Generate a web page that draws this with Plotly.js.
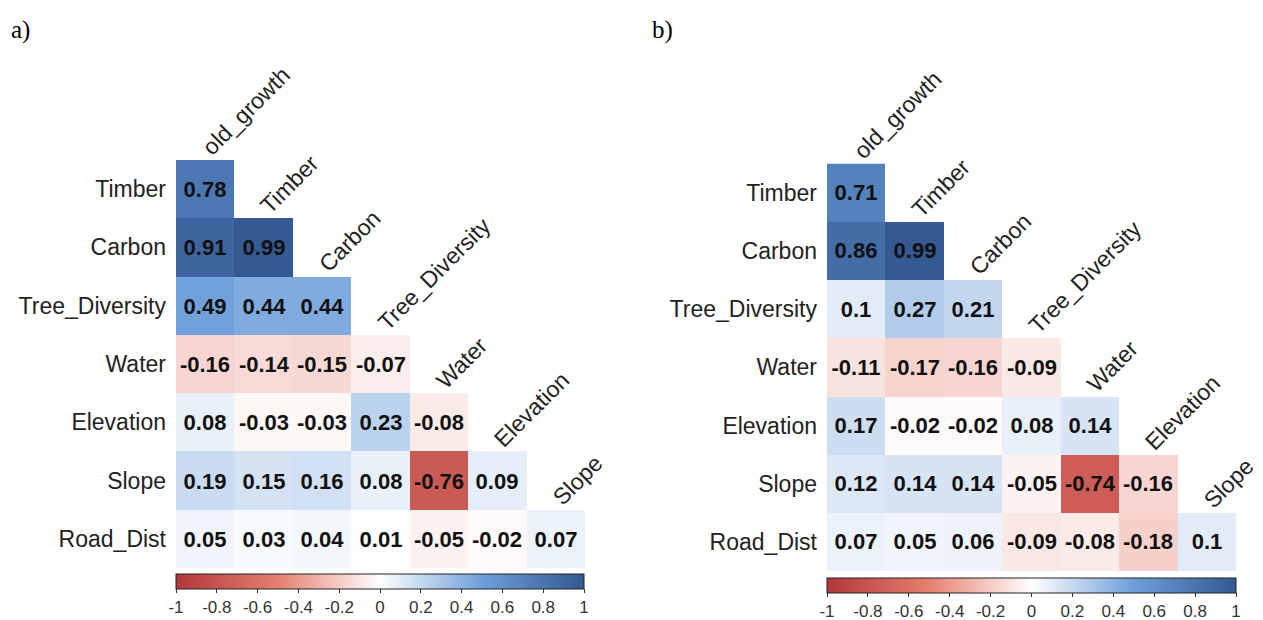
<!DOCTYPE html>
<html>
<head>
<meta charset="utf-8">
<script src="https://cdn.plot.ly/plotly-3.0.1.min.js"></script>
<style>
  html, body { margin: 0; padding: 0; background: #ffffff; }
  #chart { width: 1263px; height: 620px; }
</style>
</head>
<body>
<div id="chart"></div>
<script>
// Variables in the correlation matrices (lower triangle only)
const rowVars = ['Timber', 'Carbon', 'Tree_Diversity', 'Water', 'Elevation', 'Slope', 'Road_Dist'];
const colVars = ['old_growth', 'Timber', 'Carbon', 'Tree_Diversity', 'Water', 'Elevation', 'Slope'];

// Panel a) correlations, one row per variable in rowVars
const corrA = [
  [0.78],
  [0.91, 0.99],
  [0.49, 0.44, 0.44],
  [-0.16, -0.14, -0.15, -0.07],
  [0.08, -0.03, -0.03, 0.23, -0.08],
  [0.19, 0.15, 0.16, 0.08, -0.76, 0.09],
  [0.05, 0.03, 0.04, 0.01, -0.05, -0.02, 0.07]
];

// Panel b) correlations
const corrB = [
  [0.71],
  [0.86, 0.99],
  [0.1, 0.27, 0.21],
  [-0.11, -0.17, -0.16, -0.09],
  [0.17, -0.02, -0.02, 0.08, 0.14],
  [0.12, 0.14, 0.14, -0.05, -0.74, -0.16],
  [0.07, 0.05, 0.06, -0.09, -0.08, -0.18, 0.1]
];

// Colour bar ticks
const cbTickVals = [-1, -0.8, -0.6, -0.4, -0.2, 0, 0.2, 0.4, 0.6, 0.8, 1];
const cbTickText = ['-1', '-0.8', '-0.6', '-0.4', '-0.2', '0', '0.2', '0.4', '0.6', '0.8', '1'];

const panelLabels = ['a)', 'b)'];

// Diverging red-white-blue scale
const corrScale = [
  [0.00, '#B2373B'],
  [0.25, '#E5806F'],
  [0.50, '#FFFFFF'],
  [0.75, '#6E9FDA'],
  [1.00, '#335892']
];

const W = 1263, H = 620;
const px = v => v / W;
const py = v => 1 - v / H;

// Expand a lower-triangular list into a full matrix with gaps above the diagonal
function fullMatrix(tri) {
  return tri.map(row => colVars.map((_, j) => (j < row.length ? row[j] : null)));
}
function textMatrix(tri) {
  return tri.map(row => colVars.map((_, j) => (j < row.length ? String(row[j]) : '')));
}

function heat(tri, xa, ya, cb) {
  return {
    type: 'heatmap',
    x: colVars,
    y: rowVars,
    z: fullMatrix(tri),
    text: textMatrix(tri),
    texttemplate: '%{text}',
    textfont: { family: 'Liberation Sans, Arial, sans-serif', size: 22, color: '#111111', weight: 'bold' },
    zmin: -1, zmax: 1,
    colorscale: corrScale,
    hoverongaps: false,
    xaxis: xa, yaxis: ya,
    colorbar: Object.assign({
      orientation: 'h',
      xanchor: 'center',
      yanchor: 'top',
      lenmode: 'pixels',
      thickness: 15,
      xpad: 0, ypad: 0,
      outlinewidth: 1,
      outlinecolor: '#222222',
      tickmode: 'array',
      tickvals: cbTickVals,
      ticktext: cbTickText,
      ticks: 'outside',
      ticklen: 4,
      tickcolor: '#333333',
      tickfont: { family: 'Liberation Sans, Arial, sans-serif', size: 17, color: '#333333' }
    }, cb)
  };
}

const traces = [
  heat(corrA, 'x', 'y', { x: px(380), y: py(574), len: 408 }),
  heat(corrB, 'x2', 'y2', { x: px(1031.5), y: py(578), len: 409 })
];

const labelFont = { family: 'Liberation Sans, Arial, sans-serif', size: 23, color: '#222222' };

function xAxis(domain, anchor) {
  return {
    domain: domain,
    anchor: anchor,
    type: 'category',
    range: [-0.5, colVars.length - 0.5],
    autorange: false,
    showticklabels: false, showgrid: false, zeroline: false, showline: false, ticks: '',
    fixedrange: true
  };
}
function yAxis(domain, anchor) {
  return {
    domain: domain,
    anchor: anchor,
    type: 'category',
    range: [rowVars.length - 0.5, -0.5],
    autorange: false,
    showgrid: false, zeroline: false, showline: false, ticks: '',
    ticklabelstandoff: 9,
    tickfont: labelFont,
    fixedrange: true
  };
}

// Diagonal column names sit just above each column's first cell
const annotations = [];
[['x', 'y'], ['x2', 'y2']].forEach(([xr, yr]) => {
  colVars.forEach((name, j) => {
    annotations.push({
      xref: xr, yref: yr,
      x: j, y: j - 0.5,
      text: name,
      showarrow: false,
      textangle: -45,
      xanchor: 'left', yanchor: 'bottom',
      xshift: -11, yshift: -3,
      font: labelFont
    });
  });
});
annotations.push({
  xref: 'paper', yref: 'paper', x: px(9), y: py(14),
  xanchor: 'left', yanchor: 'top', showarrow: false,
  text: panelLabels[0],
  font: { family: 'Liberation Serif, Times New Roman, serif', size: 25, color: '#000000' }
});
annotations.push({
  xref: 'paper', yref: 'paper', x: px(650), y: py(14),
  xanchor: 'left', yanchor: 'top', showarrow: false,
  text: panelLabels[1],
  font: { family: 'Liberation Serif, Times New Roman, serif', size: 25, color: '#000000' }
});

const layout = {
  width: W, height: H,
  margin: { l: 0, r: 0, t: 0, b: 0, autoexpand: false },
  paper_bgcolor: '#ffffff',
  plot_bgcolor: 'rgba(0,0,0,0)',
  showlegend: false,
  xaxis: xAxis([px(176), px(585)], 'y'),
  yaxis: yAxis([py(568), py(160)], 'x'),
  xaxis2: xAxis([px(827), px(1236)], 'y2'),
  yaxis2: yAxis([py(571), py(163.5)], 'x2'),
  annotations: annotations
};

Plotly.newPlot('chart', traces, layout, { staticPlot: true, displayModeBar: false });
</script>
</body>
</html>
